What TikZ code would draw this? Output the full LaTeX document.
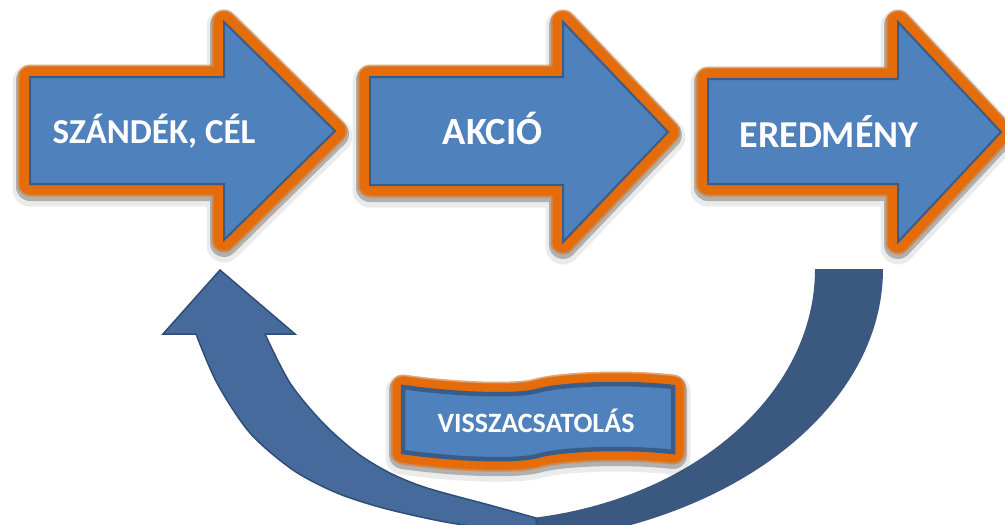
\documentclass[tikz,border=0pt]{standalone}
\usepackage{fontspec}
\setmainfont{Carlito}
\definecolor{blueF}{RGB}{79,129,189}
\definecolor{blueD}{RGB}{56,93,138}
\definecolor{orangeG}{RGB}{228,108,10}
\definecolor{bandL}{RGB}{70,106,155}
\definecolor{bandLD}{RGB}{47,78,119}
\definecolor{bandR}{RGB}{59,89,128}
\tikzset{
  shadowA/.style={draw=black, draw opacity=0.08, line width=35pt, line join=round, yshift=-5pt},
  shadowB/.style={draw=black, draw opacity=0.25, line width=28pt, line join=round, yshift=-3pt},
  glowsoft/.style={draw=orangeG, draw opacity=0.55, line width=25pt, line join=round},
  glowcore/.style={draw=orangeG, line width=21pt, line join=round},
  bodyshape/.style={fill=blueF, draw=blueD, line join=miter},
  label/.style={text=white, font=\bfseries, anchor=base, inner sep=0pt},
}
\newcommand\glowshape[2][2pt]{%
  \draw[shadowA] #2;
  \draw[shadowB] #2;
  \draw[glowsoft] #2;
  \draw[glowcore] #2;
  \draw[bodyshape, line width=#1] #2;}
\begin{document}
\begin{tikzpicture}[x=1pt, y=-1pt]
\useasboundingbox (0,0) rectangle (1005,525);
\clip (0,0) rectangle (1005,525);
% feedback arrow: back (tail) band
\fill[bandR] (883,269) .. controls (883,421) and (703,545) .. (480,545)
  -- (480,521) .. controls (665,521) and (815,408) .. (815,269) -- cycle;
% feedback arrow: front band with head
\filldraw[fill=bandL, draw=bandLD, line width=1.5pt, line join=miter]
  (163,334) -- (220,270) -- (295,334) -- (265,334)
  -- plot[smooth] coordinates {(265,334) (290,383) (323,423) (357,453) (390,473) (427,488) (493,506) (536,518)}
  -- (538,540)
  -- plot[smooth] coordinates {(538,540) (500,531) (440,521) (383,508) (337,493) (293,470) (250,433) (217,383) (196,334)}
  -- cycle;
% banner
\glowshape[4.5pt]{(403,387) .. controls (450,394) and (515,397) .. (537,391) .. controls (556,385) and (620,381) .. (673,387)
  -- (673,452) .. controls (620,446) and (556,450) .. (537,456) .. controls (515,462) and (450,459) .. (403,452) -- cycle}
\node[label, font=\bfseries\fontsize{28}{30}\selectfont] (fb) at (536,432) {VISSZACSATOLÁS};
% block arrows
\glowshape{(30,77) -- (224,77) -- (224,22) -- (335,131) -- (224,240) -- (224,184) -- (30,184) -- cycle}
\glowshape{(370,77) -- (563,77) -- (563,22) -- (668,132) -- (563,242) -- (563,185) -- (370,185) -- cycle}
\glowshape{(708,79) -- (898,79) -- (898,22) -- (1001,132) -- (898,242) -- (898,184) -- (708,184) -- cycle}
\node[label, font=\bfseries\fontsize{35}{38}\selectfont] (t1) at (154,143.5) {SZÁNDÉK, CÉL};
\node[label, font=\bfseries\fontsize{38.5}{41}\selectfont] (t2) at (492.5,144) {AKCIÓ};
\node[label, font=\bfseries\fontsize{38}{41}\selectfont] (t3) at (829,147) {EREDMÉNY};
\end{tikzpicture}
\end{document}
